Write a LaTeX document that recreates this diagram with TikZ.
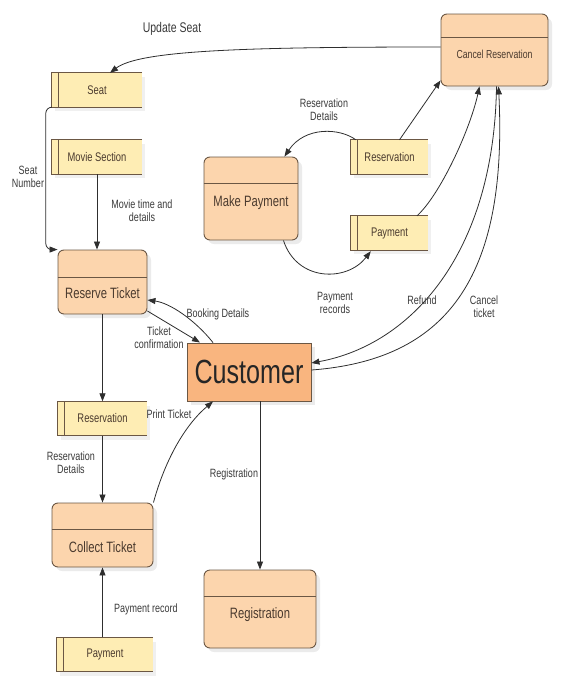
\documentclass[tikz,border=0pt]{standalone}
\usepackage{fontspec}
\setmainfont{Liberation Sans}[FakeStretch=0.75]
\usetikzlibrary{arrows.meta,shadows}

\definecolor{procfill}{HTML}{FCD5AD}
\definecolor{custfill}{HTML}{F9B57F}
\definecolor{storefill}{HTML}{FEEDB4}
\definecolor{boxline}{HTML}{6B5744}
\definecolor{flowline}{HTML}{2E2E2E}
\definecolor{labeltext}{HTML}{3A3A3A}
\definecolor{proctext}{HTML}{4A3A2E}

\begin{document}
\begin{tikzpicture}[x=1pt,y=-1pt]
        \tikzset{process/.style={draw=boxline, fill=procfill, line width=0.9pt, rounded corners=6pt,
                inner sep=0pt, text=proctext, font=\fontsize{15}{16}\selectfont,
                text depth=0pt, text height=#1,
                drop shadow={shadow xshift=4pt, shadow yshift=-4pt, fill=black, opacity=0.08}},
            store/.style={fill=storefill, minimum height=34pt, inner sep=0pt, text=proctext,
                font=\fontsize{12.5}{13}\selectfont,
                drop shadow={shadow xshift=3pt, shadow yshift=-4pt, fill=black, opacity=0.06}},
            entity/.style={draw=boxline, fill=custfill, line width=0.9pt, minimum width=124pt,
                minimum height=58pt, inner sep=0pt, text=black!85, font=\fontsize{33.5}{36}\selectfont,
                drop shadow={shadow xshift=4pt, shadow yshift=-4pt, fill=black, opacity=0.08}},
            lbl/.style={text=labeltext, font=\fontsize{12}{13}\selectfont, align=center, inner sep=1pt},
            flow/.style={draw=flowline, line width=0.8pt, -{Triangle[length=8pt,width=6pt]}}}
        \useasboundingbox (0,0) rectangle (582,688);
        % stores and processes
        \node[store, minimum width=90pt] (seat) at (97,90) {Seat};
        \node[store, minimum width=90pt] (movie) at (97,157) {Movie Section};
        \node[process=16.3pt, minimum width=107pt, minimum height=72pt,
            font=\fontsize{11.6}{13}\selectfont] (cancel) at (494.5,50) {Cancel Reservation};
        \node[process=15.8pt, minimum width=94pt, minimum height=83pt] (mp) at (251,198.5) {Make Payment};
        \node[store, minimum width=77pt] (resvt) at (389.5,157) {Reservation};
        \node[store, minimum width=77pt] (payt) at (389.5,233) {Payment};
        \node[process=32.8pt, minimum width=89pt, minimum height=64pt] (rt) at (102.5,282) {Reserve Ticket};
        \node[entity] (cust) at (249,372) {Customer};
        \node[store, minimum width=89pt] (resvb) at (102.5,418.5) {Reservation};
        \node[process=34.8pt, minimum width=101pt, minimum height=64pt] (ct) at (102.5,535) {Collect Ticket};
        \node[process=18.8pt, minimum width=112pt, minimum height=78pt] (reg) at (260,609) {Registration};
        \node[store, minimum width=96pt] (payb) at (105,654.5) {Payment};
        \foreach \p/\d in {cancel/24,mp/27,rt/28,ct/27,reg/27}
            \draw[boxline, line width=0.9pt] ([yshift=-\d pt]\p.north west) -- ([yshift=-\d pt]\p.north east);
        \foreach \s in {seat,movie,resvt,payt,resvb,payb}{
            \draw[boxline, line width=0.9pt] (\s.north east) -- (\s.north west) -- (\s.south west) -- (\s.south east);
            \draw[boxline, line width=0.9pt] ([xshift=7pt]\s.north west) -- ([xshift=7pt]\s.south west);
        }
        % flows
        \draw[flow] ([yshift=3pt]cancel.west) .. controls (250,47) and (140,50) .. ([xshift=13pt]seat.north);
        \node[lbl, font=\fontsize{14}{15}\selectfont] (lupdate) at (172,29) {Update Seat};
        \draw[flow, rounded corners=6pt] (seat.south west) -- ++(-6,0) |- (rt.north west);
        \node[lbl] (lseatno) at (28,177) {Seat\\Number};
        \draw[flow] (movie.south) -- (movie.south |- rt.north);
        \node[lbl] (lmovie) at (142,211) {Movie time and\\details};
        \draw[flow] ([xshift=5pt]resvt.north west) .. controls (340,128) and (305,126) .. ([xshift=-14pt]mp.north east);
        \node[lbl] (lresvd) at (324,110) {Reservation\\Details};
        \draw[flow] ([xshift=10pt]resvt.north) -- ([yshift=6pt]cancel.south west);
        \draw[flow] ([xshift=-15pt]mp.south east) .. controls (297,282) and (347,282) .. ([xshift=20pt,yshift=-1pt]payt.south west);
        \node[lbl] (lpayrec) at (335,303) {Payment\\records};
        \draw[flow] ([xshift=27.5pt]payt.north) .. controls (440,195) and (470,130) .. ([xshift=-15pt]cancel.south);
        \draw[flow] ([xshift=2pt]cancel.south) .. controls (494,255) and (410,345) .. ([yshift=9pt]cust.east);
        \draw[flow] ([yshift=2pt]cust.east) .. controls (445,360) and (508,280) .. ([xshift=4pt]cancel.south);
        \node[lbl] (lrefund) at (422,300) {Refund};
        \node[lbl] (lcancel) at (484,307) {Cancel\\ticket};
        \draw[flow] ([xshift=-36pt]cust.north) .. controls (195,320) and (170,303) .. ([yshift=-18pt]rt.east);
        \draw[flow] ([yshift=-29pt]rt.east) -- ([xshift=-49pt]cust.north);
        \node[lbl] (lbook) at (218,314) {Booking Details};
        \node[lbl] (lticket) at (159,338) {Ticket\\confirmation};
        \draw[flow] (rt.south) -- (resvb.north);
        \draw[flow] (resvb.south) -- (ct.north);
        \node[lbl] (lresvd2) at (71,463) {Reservation\\Details};
        \draw[flow] (ct.north east) .. controls (165,460) and (185,425) .. ([xshift=-36pt]cust.south);
        \node[lbl] (lprint) at (169,414) {Print Ticket};
        \draw[flow] (cust.south -| reg.north) -- (reg.north);
        \node[lbl] (lreg) at (234,474) {Registration};
        \draw[flow] (ct.south |- payb.north) -- (ct.south);
        \node[lbl] (lpayrec2) at (146,609) {Payment record};
    \end{tikzpicture}
\end{document}
